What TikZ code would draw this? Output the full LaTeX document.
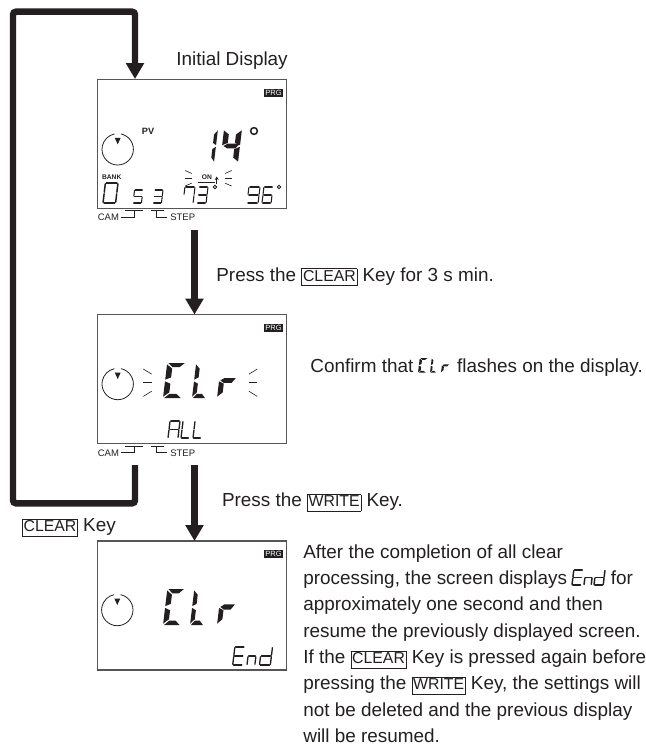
\documentclass[tikz,border=0pt]{standalone}
\usepackage{fontspec}
\setmainfont{Liberation Sans}
\usepackage{xcolor}
\usetikzlibrary{arrows.meta,positioning}
\definecolor{dink}{HTML}{231F20}
\definecolor{dpanel}{HTML}{555555}
\setlength{\fboxsep}{0.5pt}
\setlength{\fboxrule}{0.4pt}
\newcommand{\dkey}[1]{\fbox{\fontsize{9}{10}\selectfont\vphantom{Ig}#1}}
\tikzset{
  dtext/.style={text=dink, font=\fontsize{10.76}{15}\selectfont, inner sep=0pt, anchor=base west},
  dscreen/.style={draw=dpanel, line width=0.6pt, fill=white, minimum width=3.78cm,
                  minimum height=2.58cm, inner sep=0pt, outer sep=0pt},
  dflow/.style={draw=dink, line width=1.3mm, -{Triangle[length=3.2mm,width=3.5mm]}, rounded corners=0.6mm},
  dbadge/.style={fill=dink, text=white, font=\fontsize{4.3}{5}\selectfont,
                 inner sep=0pt, minimum width=3.8mm, minimum height=1.6mm},
  dsmall/.style={text=dink, font=\fontsize{5.4}{6}\selectfont, inner sep=0pt},
  dtiny/.style={text=dink, font=\bfseries\fontsize{3.8}{4}\selectfont, inner sep=0pt},
  dflick/.style={draw=dink, line width=0.35pt},
  dring/.style={circle, minimum size=6.28mm, inner sep=0pt, outer sep=0pt},
  % thin display segments
  thina/.style={insert path={(0.08,0) -- (0.92,0)}},
  thinb/.style={insert path={(1,0.08) -- (1,0.92)}},
  thinc/.style={insert path={(1,1.08) -- (1,1.92)}},
  thind/.style={insert path={(0.08,2) -- (0.92,2)}},
  thine/.style={insert path={(0,1.08) -- (0,1.92)}},
  thinf/.style={insert path={(0,0.08) -- (0,0.92)}},
  thing/.style={insert path={(0.08,1) -- (0.92,1)}},
  % heavy display segments
  fata/.style={insert path={(0.06,0) -- (0.94,0) -- (0.68,0.24) -- (0.32,0.24) -- cycle}},
  fatb/.style={insert path={(1,0.08) -- (0.7,0.32) -- (0.7,0.82) -- (1,0.95) -- cycle}},
  fatc/.style={insert path={(1,1.05) -- (0.7,1.18) -- (0.7,1.68) -- (1,1.92) -- cycle}},
  fatd/.style={insert path={(0.06,2) -- (0.94,2) -- (0.68,1.76) -- (0.32,1.76) -- cycle}},
  fate/.style={insert path={(0,1.05) -- (0.3,1.18) -- (0.3,1.68) -- (0,1.92) -- cycle}},
  fatf/.style={insert path={(0,0.08) -- (0.3,0.32) -- (0.3,0.82) -- (0,0.95) -- cycle}},
  fatg/.style={insert path={(0.08,1) -- (0.3,0.86) -- (0.98,0.86) -- (0.75,1.14) -- (0.3,1.14) -- cycle}},
}
% left, top, width, height, segments
\newcommand{\dthin}[6][0.6pt]{%
  \begin{scope}[shift={({#2+0.12*#5},#3)},xslant=0.12,xscale={#4-0.12*#5},yscale={#5/2}]
    \foreach \s in {#6} \draw[draw=dink,line width=#1,line cap=round,thin\s];
  \end{scope}}
\newcommand{\dfat}[5]{%
  \begin{scope}[shift={({#1+0.12*#4},#2)},xslant=0.12,xscale={#3-0.12*#4},yscale={#4/2}]
    \foreach \s in {#5} \fill[dink,fat\s];
  \end{scope}}
% outer end, middle height, signed length, spread
\newcommand{\dflash}[4]{%
  \draw[dflick] (#1,{#2-#4}) -- ({#1+#3},{#2-0.62*#4});
  \draw[dflick] (#1,#2) -- ({#1+#3},#2);
  \draw[dflick] (#1,{#2+#4}) -- ({#1+#3},{#2+0.62*#4});}
\newcommand{\ddial}[3]{%
  \node[dring] (#1) at (#2,#3) {};
  \draw[dink,line width=0.45pt] (#1.78) arc[start angle=78,end angle=-258,radius=3.14mm];
  \fill[dink] ({#2-3},{#3-11.5}) -- ({#2+3},{#3-11.5}) -- (#2,{#3-5}) -- cycle;}
\newcommand{\dfoot}[1]{%
  \draw[dflick] (125,{#1+2.7}) -- (143,{#1+2.7}) (134,{#1+2.7}) -- (134,{#1+9}) -- (121,{#1+9});
  \draw[dflick] (151,{#1+2.7}) -- (164,{#1+2.7}) (156.5,{#1+2.7}) -- (156.5,{#1+9}) -- (167,{#1+9});
  \node[dsmall,anchor=base west] at (97.5,{#1+12.5}) {CAM};
  \node[dsmall,anchor=base west] at (170,{#1+12.5}) {STEP};}

\begin{document}
\begin{tikzpicture}[x=0.02cm,y=-0.02cm]
  \useasboundingbox (0,0) rectangle (646,745);

  % screens
  \node[dscreen] (scrinit) at (192.3,143.7) {};
  \node[dscreen] (scrconf) at (192.3,379) {};
  \node[dscreen] (scrdone) at (192.3,605.5) {};
  \node[dbadge] (prginit) at (273.5,93) {PRG};
  \node[dbadge] (prgconf) at (273.5,328) {PRG};
  \node[dbadge] (prgdone) at (273.5,553.5) {PRG};

  % arrows
  \coordinate (fromconf) at (135,465);
  \coordinate (stepa) at (194.5,230);
  \coordinate (stepb) at (194.5,465);
  \draw[dflow] (stepa) -- (stepa |- scrconf.north);
  \draw[dflow] (stepb) -- (stepb |- scrdone.north);
  \draw[dflow] (fromconf) -- (135,503.3) -- (13,503.3) -- (13,11.7) -- (135,11.7) -- (135,79);

  % initial display
  \ddial{dialinit}{117.7}{149.3}
  \node[dtiny,font=\bfseries\fontsize{5.2}{6}\selectfont] (pv) at (148,131) {PV};
  \dfat{203}{129}{15}{34}{b,c}
  \dfat{220}{129}{22}{34}{f,g,b,c}
  \draw[dink,line width=0.85pt] (254,131) circle (3.4);
  \node[dtiny] (bank) at (111.7,177) {BANK};
  \node[dtiny] (on) at (207,177) {ON};
  \draw[dink,line width=0.8pt] (198,182.7) -- (215,182.7);
  \draw[dink,line width=0.5pt,-{Stealth[length=0.7mm,width=0.8mm]}] (216.7,184) -- (216.7,176.5);
  \dflash{185}{178.3}{6.7}{7.8}
  \dflash{231.7}{178.3}{-6.7}{7.8}
  \dthin[0.85pt]{103}{183}{15}{20}{a,b,c,d,e,f}
  \dthin{133}{190}{10}{13}{a,f,g,c,d}
  \dthin{153}{190}{10}{13}{a,b,g,c,d}
  \dthin{183}{187}{12}{16}{a,b,c,f}
  \dthin{197}{187}{11}{16}{a,b,g,c,d}
  \draw[dink,line width=0.45pt] (215,187) circle (1.7);
  \dthin{247}{187}{13}{16}{a,f,g,b,c,d}
  \dthin{262}{187}{11}{16}{a,f,g,e,c,d}
  \draw[dink,line width=0.45pt] (279,187) circle (1.7);
  \dfoot{208}

  % clear flashing
  \ddial{dialconf}{117.7}{384}
  \dflash{143.3}{382.7}{8.4}{13.7}
  \dflash{257.3}{382.7}{-8.4}{13.7}
  \dfat{163}{363}{23}{35}{a,f,e,d}
  \dfat{192}{363}{18}{35}{f,e,d}
  \dfat{217}{363}{21}{35}{e,g}
  \dthin[0.75pt]{168}{421}{12}{17}{a,b,c,e,f,g}
  \dthin[0.75pt]{181}{421}{10}{17}{f,e,d}
  \dthin[0.75pt]{193}{421}{10}{17}{f,e,d}
  \dfoot{443.5}

  % clear done
  \ddial{dialdone}{117.3}{610}
  \dfat{163}{589}{22}{36}{a,f,e,d}
  \dfat{190}{589}{18}{36}{f,e,d}
  \dfat{217}{589}{20}{36}{e,g}
  \dthin[0.75pt]{232.7}{647}{12}{18}{a,f,g,e,d}
  \dthin[0.75pt]{247}{647}{10}{18}{e,g,c}
  \dthin[0.75pt]{259.5}{647}{13}{18}{b,c,d,e,g}

  % text
  \node[dtext] (caption) at (176,65) {Initial Display};
  \node[dtext] (pressa) at (216,281) {Press the \dkey{CLEAR} Key for 3 s min.};
  \node[dtext] (confirm) at (310,372.7) {Confirm that \hspace{19pt} flashes on the display.};
  \dfat{418}{358}{10}{14.7}{a,f,e,d}
  \dfat{430}{358}{8}{14.7}{f,e,d}
  \dfat{441}{358}{9}{14.7}{e,g}
  \node[dtext] (pressb) at (221.7,506.7) {Press the \dkey{WRITE} Key.};
  \node[dtext] (clearkey) at (21.7,531.7) {\dkey{CLEAR} Key};
  \node[dtext,anchor=north west,align=left] (notes) at (303,544) {After the completion of all clear\\
    processing, the screen displays \hspace{19pt} for\\
    approximately one second and then\\
    resume the previously displayed screen.\\
    If the \dkey{CLEAR} Key is pressed again before\\
    pressing the \dkey{WRITE} Key, the settings will\\
    not be deleted and the previous display\\
    will be resumed.};
  \dthin[0.85pt]{572}{570}{11}{15}{a,f,g,e,d}
  \dthin[0.85pt]{584}{570}{9}{15}{e,g,c}
  \dthin[0.85pt]{594}{570}{11}{15}{b,c,d,e,g}
\end{tikzpicture}
\end{document}
